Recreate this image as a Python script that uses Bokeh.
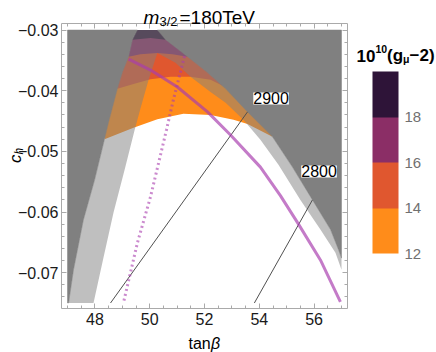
from bokeh.plotting import figure
from bokeh.models import (Range1d, LinearAxis, SingleIntervalTicker, CustomJSTickFormatter,
                          ColorBar, LinearColorMapper, FixedTicker, Label)
from bokeh.embed import file_html
from bokeh.resources import INLINE

# ---------------- data (tan beta, c_h) ----------------
XMIN, XMAX = 47.0, 57.0
YMIN, YMAX = -0.075, -0.030

# outer boundary of allowed region (dark gray outside)
archA_left_x = [47.04, 47.22, 47.58, 47.99, 48.35, 48.50, 48.82, 49.01, 49.23, 49.37, 49.55]
archA_left_y = [-0.0750, -0.0695, -0.0613, -0.0547, -0.0480, -0.0452, -0.0397, -0.0369, -0.0344, -0.0316, -0.0300]
archA_right_x = [50.28, 50.58, 50.98, 51.38, 52.07, 52.77, 53.57, 54.48, 55.21, 55.94, 56.60, 56.89, 57.00]
archA_right_y = [-0.0300, -0.0316, -0.0330, -0.0344, -0.0369, -0.0397, -0.0435, -0.0476, -0.0526, -0.0580, -0.0629, -0.0662, -0.0676]

# inner boundary (light gray band between the two)
archB_right_x = [50.28, 50.94, 51.49, 52.22, 52.77, 53.42, 54.04, 54.70, 55.50, 56.23, 56.78, 57.00]
archB_right_y = [-0.0338, -0.0354, -0.0377, -0.0402, -0.0420, -0.0448, -0.0481, -0.0522, -0.0580, -0.0629, -0.0667, -0.0695]
archB_left_x = [50.28, 49.96, 49.66, 49.45, 49.08, 48.68, 48.31, 47.95]
archB_left_y = [-0.0338, -0.0382, -0.0430, -0.0465, -0.0531, -0.0601, -0.0676, -0.0750]

# g-2 contours (10^10 (g_mu - 2) = 12, 14, 16, 18)
c12_x = [48.35, 49.41, 50.28, 51.23, 52.22, 53.06, 53.57, 54.48]
c12_y = [-0.0480, -0.0461, -0.0447, -0.0438, -0.0440, -0.0448, -0.0455, -0.0476]
c14_x = [48.82, 49.41, 50.03, 50.76, 51.49, 52.22, 52.66]
c14_y = [-0.0397, -0.0389, -0.0381, -0.0377, -0.0377, -0.0382, -0.0392]
c16_x = [49.23, 49.66, 50.28, 50.83, 51.38]
c16_y = [-0.0344, -0.0340, -0.0338, -0.0340, -0.0344]
c18_x = [49.37, 50.03, 50.58]
c18_y = [-0.0316, -0.0313, -0.0316]

gm2_levels = [12, 14, 16, 18, 20]
gm2_colors = ["#FF8C1A", "#E0572F", "#8B2E66", "#2E1438"]

# purple solid curve and dotted curve
solid_x = [49.23, 50.03, 51.01, 52.11, 52.95, 54.04, 54.77, 55.43, 56.23, 56.96]
solid_y = [-0.0348, -0.0366, -0.0394, -0.0435, -0.0473, -0.0526, -0.0573, -0.0620, -0.0679, -0.0748]
dot_x = [51.27, 50.87, 50.61, 50.03, 49.55, 49.04]
dot_y = [-0.0343, -0.0414, -0.0465, -0.0575, -0.0651, -0.0750]

# mass contours 2900 / 2800
m2900_x = [53.57, 48.57]
m2900_y = [-0.0435, -0.0750]
m2800_x = [55.94, 53.82]
m2800_y = [-0.0580, -0.0750]
mass_labels = ["2900", "2800"]

# ---------------- figure (frame = whole canvas, axes at fixed locations) ----------------
W, H = 436, 352
PX, PY = 27.4, 6067.0          # pixels per data unit
X0, Y0 = 67.0, 29.5            # pixel position of (XMIN, YMAX)
xr0 = XMIN - X0 / PX
xr1 = XMIN + (W - X0) / PX
yr1 = YMAX + Y0 / PY
yr0 = YMAX - (H - Y0) / PY
fl, fr = XMIN - 6 / PX, XMAX + 6 / PX       # frame box of the plot
fb, ft = YMIN - 5.5 / PY, YMAX + 6.5 / PY

p = figure(width=W, height=H, x_range=Range1d(xr0, xr1), y_range=Range1d(yr0, yr1),
           x_axis_type=None, y_axis_type=None, toolbar_location=None,
           output_backend="svg", min_border=0)
p.outline_line_color = None
p.background_fill_color = "white"
p.border_fill_color = "white"

# colour bands (extended upward, then clipped by the dark region drawn on top)
bx, by = [], []
for cx, cy in [(c12_x, c12_y), (c14_x, c14_y), (c16_x, c16_y), (c18_x, c18_y)]:
    bx.append(cx + [cx[-1], cx[0]])
    by.append(cy + [YMAX, YMAX])
p.patches(bx, by, fill_color=gm2_colors, line_color=None)

# dark gray excluded region outside the outer arch
gx = [[XMIN] + archA_left_x + [XMIN], archA_right_x + [XMAX]]
gy = [[YMIN] + archA_left_y + [YMAX], archA_right_y + [YMAX]]
p.patches(gx, gy, fill_color="#808080", line_color="#808080", line_width=0.5)

# light gray band between the arches (semi-transparent)
lx = archA_left_x + archA_right_x + archB_right_x[::-1] + archB_left_x
ly = archA_left_y + archA_right_y + archB_right_y[::-1] + archB_left_y
p.patch(lx, ly, fill_color="#808080", fill_alpha=0.5, line_color=None)

# lines
p.line(m2900_x, m2900_y, line_color="#505050", line_width=1)
p.line(m2800_x, m2800_y, line_color="#505050", line_width=1)
p.line(solid_x, solid_y, line_color="#A83CAE", line_alpha=0.68, line_width=3)
p.line(dot_x, dot_y, line_color="#A83CAE", line_alpha=0.6, line_width=3, line_dash="2 3")

# contour labels
for txt, lxp, lyp in zip(mass_labels, [54.43, 56.18], [-0.04128, -0.05331]):
    p.add_layout(Label(x=lxp, y=lyp, text=txt, text_align="center", text_baseline="middle",
                       text_font="Liberation Sans", text_font_size="16px", text_color="black",
                       background_fill_color="white"))

# ---------------- axes (frame of the plot) ----------------
xt = SingleIntervalTicker(interval=2, num_minor_ticks=4)
yt = SingleIntervalTicker(interval=0.01, num_minor_ticks=5)

def style(ax):
    ax.axis_line_color = "#AAAAAA"
    ax.major_tick_line_color = "#AAAAAA"
    ax.minor_tick_line_color = "#AAAAAA"
    ax.major_tick_in = 5
    ax.major_tick_out = 0
    ax.minor_tick_in = 3
    ax.minor_tick_out = 0
    ax.major_label_text_font = "Liberation Sans"
    ax.major_label_text_font_size = "16px"
    ax.major_label_text_color = "#1a1a1a"

xb = LinearAxis(ticker=xt, formatter=CustomJSTickFormatter(code="return tick.toFixed(0);"),
                major_label_standoff=4, fixed_location=fb, bounds=(fl, fr))
style(xb)
p.add_layout(xb, "below")
yl = LinearAxis(ticker=yt, formatter=CustomJSTickFormatter(
    code="return (tick < 0 ? '\\u2212' : '') + Math.abs(tick).toFixed(2);"),
    major_label_standoff=3, fixed_location=fl, bounds=(fb, ft))
style(yl)
p.add_layout(yl, "left")
xa = LinearAxis(ticker=xt, formatter=CustomJSTickFormatter(code="return '';"),
                major_label_standoff=0, fixed_location=ft, bounds=(fl, fr))
style(xa)
xa.major_label_text_font_size = "1px"
p.add_layout(xa, "above")
yr = LinearAxis(ticker=yt, formatter=CustomJSTickFormatter(code="return '';"),
                major_label_standoff=0, fixed_location=fr, bounds=(fb, ft))
style(yr)
yr.major_label_text_font_size = "1px"
p.add_layout(yr, "right")

# ---------------- colour bar ----------------
mapper = LinearColorMapper(palette=gm2_colors, low=gm2_levels[0], high=gm2_levels[-1])
cb = ColorBar(color_mapper=mapper, ticker=FixedTicker(ticks=gm2_levels[:-1]),
              location=(372, 99), width=26, height=182, padding=0, margin=0,
              label_standoff=6, major_tick_line_color=None, minor_tick_line_color=None,
              bar_line_color=None, border_line_color=None, background_fill_alpha=0,
              major_label_text_font="Liberation Sans", major_label_text_font_size="15px",
              major_label_text_color="#707070")
p.add_layout(cb)

# ---------------- texts (screen units from the canvas bottom-left) ----------------
def lab(x, y, text, size, style="normal", angle=0, color="black"):
    p.add_layout(Label(x=x, y=y, x_units="screen", y_units="screen", text=text,
                       text_font="Liberation Sans", text_font_size=size, text_font_style=style,
                       text_align="left", text_baseline="alphabetic", angle=angle,
                       text_color=color))

# title m_{3/2}=180TeV
lab(143, 335, "m", "19px", "italic")
lab(159, 331, "3/2", "13px")
lab(179, 335, "=180TeV", "19px")
# x label tan(beta)
lab(188, 9, "tan", "16px")
lab(210.5, 9, "β", "16px", "italic")
# y label c_h
lab(15, 189.5, "c", "17px", "italic", angle=1.5708)
lab(18, 198, "h", "12px", "italic", angle=1.5708)
# colour bar title 10^10 (g_mu - 2)
lab(356, 297, "10", "17px", "bold")
lab(375, 304, "10", "10.5px", "bold")
lab(386.6, 297, "(g", "17px", "bold")
lab(402.6, 294, "μ", "10.5px", "bold")
lab(409, 297, "\u22122)", "17px", "bold")

open("out.html", "w").write(file_html(p, INLINE))
